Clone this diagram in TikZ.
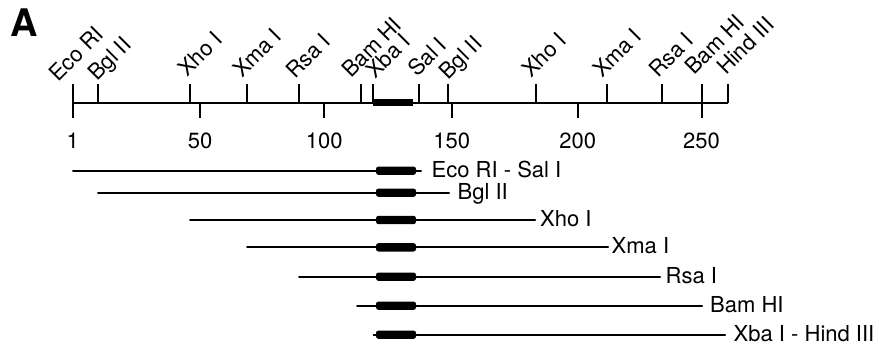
\documentclass[tikz,border=0pt]{standalone}
\usepackage{fontspec}
\setmainfont{TeX Gyre Heros}
\begin{document}
\begin{tikzpicture}[x=1pt,y=-1pt,
  lbl/.style={inner sep=0pt, font=\fontsize{22}{26}\selectfont},
  site/.style={lbl, rotate=45, anchor=base west},
  num/.style={lbl, anchor=base},
  rowlbl/.style={lbl, anchor=base west},
  axisline/.style={line width=2.4pt},
  tickline/.style={line width=2pt},
  insert/.style={line width=6.5pt},
  clone/.style={line width=2pt, line cap=round},
  cdsbar/.style={fill=black, rounded corners=2.5pt}]
\useasboundingbox (0,0) rectangle (885,354);

% panel letter
\node[inner sep=0pt, anchor=base west, font=\fontsize{38}{40}\selectfont\bfseries] (panel) at (10,36.7) {A};

% restriction map axis
\coordinate (axL) at (72.7,102.7);
\coordinate (axR) at (728.3,102.7);
\draw[axisline] (axL) -- (axR);
\coordinate (insL) at (373,102.7);
\coordinate (insR) at (412.7,102.7);
\draw[insert] (insL) -- (insR);

% restriction sites: tick x / label x / label y / name
\foreach \x/\lx/\ly/\t [count=\i] in {
   72.7/58/83/Eco RI,
   98.3/97/82/Bgl II,
  190/187/78/Xho I,
  246.5/242/79/Xma I,
  299/295/80/Rsa I,
  360.7/351/79/Bam HI,
  372.7/375/80/Xba I,
  418.7/417/78/Sal I,
  448/448/81/Bgl II,
  536/531/79/Xho I,
  607/602/79/Xma I,
  662/658/79/Rsa I,
  701.5/694/76/Bam HI,
  728.3/726/76/Hind III} {
  \coordinate (sb\i) at (\x,102.7);
  \coordinate (st\i) at (\x,84);
  \draw[tickline] (sb\i) -- (st\i);
  \node[site] (sl\i) at (\lx,\ly) {\t};
}

% scale ticks and numbers
\foreach \x/\n [count=\i] in {72.7/1, 200/50, 324.3/100, 451.7/150, 577.7/200, 701.5/250} {
  \coordinate (kt\i) at (\x,102.7);
  \coordinate (kb\i) at (\x,117.5);
  \draw[tickline] (kt\i) -- (kb\i);
  \node[num] (kn\i) at (\x,148) {\n};
}

% deletion constructs: start x / end x / row y / label x / name
\foreach \a/\b/\y/\lx/\t [count=\i] in {
   73/421/170.7/431.5/Eco RI - Sal I,
   98/449/192.7/457.5/Bgl II,
  190/535/220/540/Xho I,
  247/608/247.3/611.5/Xma I,
  299/660/276.7/665.5/Rsa I,
  357/702/305.7/710/Bam HI,
  373.5/725/334.7/733.5/Xba I - Hind III} {
  \coordinate (ca\i) at (\a,\y);
  \coordinate (cb\i) at (\b,\y);
  \draw[clone] (ca\i) -- (cb\i);
  \path[cdsbar] (376,\y-4.2) rectangle (416,\y+4.2);
  \node[rowlbl] (cl\i) at (\lx,\y+6.5) {\t};
}
\end{tikzpicture}
\end{document}
